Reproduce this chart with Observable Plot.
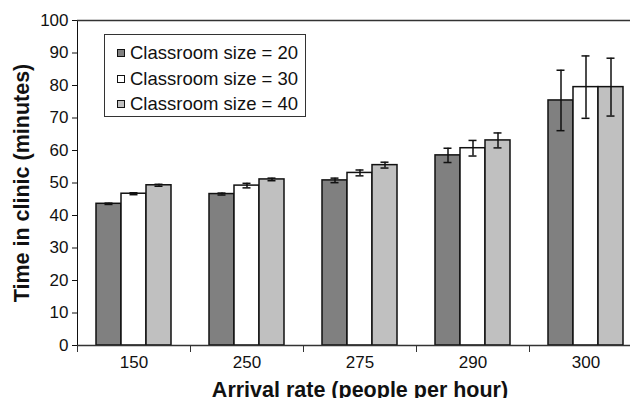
<!DOCTYPE html>
<html>
<head>
<meta charset="utf-8">
<script src="https://cdn.jsdelivr.net/npm/d3@7"></script>
<script src="https://cdn.jsdelivr.net/npm/@observablehq/plot@0.6"></script>
<style>
  html, body { margin: 0; padding: 0; background: white; overflow: hidden; }
  #wrap { position: relative; width: 630px; height: 398px; overflow: hidden; font-family: "Liberation Sans", Arial, sans-serif; }
  #wrap svg { max-width: none !important; }
  #legend { position: absolute; left: 104px; top: 34px; width: 200px; height: 81px; border: 1.5px solid #333; background: white; box-sizing: content-box; }
  .item { position: absolute; left: 12px; height: 22px; display: flex; align-items: center; font-size: 18.5px; color: #111; white-space: nowrap; }
  .sw { width: 6px; height: 6px; border: 1px solid #111; margin-right: 5px; }
</style>
</head>
<body>
<div id="wrap"><div id="legend"></div></div>
<script>
const rates = ["150", "250", "275", "290", "300"];
const sizes = [20, 30, 40];
const seriesNames = ["Classroom size = 20", "Classroom size = 30", "Classroom size = 40"];
const size20 = [43.6, 46.6, 50.8, 58.5, 75.4];
const size30 = [46.7, 49.2, 53.1, 60.7, 79.5];
const size40 = [49.3, 51.1, 55.5, 63.1, 79.5];
const err20 = [0.2, 0.3, 0.7, 2.2, 9.3];
const err30 = [0.3, 0.7, 0.9, 2.4, 9.6];
const err40 = [0.3, 0.4, 0.9, 2.3, 8.9];
const yTicks = [0, 10, 20, 30, 40, 50, 60, 70, 80, 90, 100];
const colors = ["#808080", "#ffffff", "#c0c0c0"];

const means = [size20, size30, size40];
const errs = [err20, err30, err40];
const rows = [];
rates.forEach((r, i) => sizes.forEach((s, j) => rows.push({rate: r, size: s, mean: means[j][i], err: errs[j][i]})));

const font = "'Liberation Sans', Arial, sans-serif";
const chart = Plot.plot({
  width: 642, height: 398,
  marginLeft: 77, marginRight: 0, marginTop: 20, marginBottom: 53,
  style: {fontFamily: font, fontSize: "17px", color: "#111", background: "white", overflow: "visible", maxWidth: "none"},
  fx: {domain: rates, padding: 0, label: "Arrival rate (people per hour)", labelAnchor: "center", labelOffset: 51, tickSize: 0, tickPadding: 10},
  x: {domain: sizes, paddingInner: 0, paddingOuter: 0.73, axis: null},
  y: {domain: [0, 100], ticks: yTicks, tickSize: 5, tickPadding: 4, line: true, label: "Time in clinic (minutes)", labelAnchor: "center", labelArrow: false, labelOffset: 64},
  color: {domain: sizes, range: colors},
  marks: [
    Plot.barY(rows, {fx: "rate", x: "size", y: "mean", fill: "size", stroke: "#111", strokeWidth: 1.5}),
    Plot.ruleY([0], {stroke: "#333", strokeWidth: 1.5}),
    Plot.ruleY([100], {stroke: "#333", strokeWidth: 1.5}),
    Plot.ruleX(rows, {fx: "rate", x: "size", y1: d => d.mean - d.err, y2: d => d.mean + d.err, stroke: "#111", strokeWidth: 1.5}),
    Plot.tickY(rows, {fx: "rate", x: "size", y: d => d.mean - d.err, inset: 8.5, stroke: "#111", strokeWidth: 1.5}),
    Plot.tickY(rows, {fx: "rate", x: "size", y: d => d.mean + d.err, inset: 8.5, stroke: "#111", strokeWidth: 1.5}),
    Plot.frame({anchor: "left", insetTop: 325.3, insetBottom: -6, stroke: "#333"})
  ]
});
d3.select(chart).selectAll('[aria-label="y-axis label"], [aria-label="fx-axis label"]')
  .attr("font-size", "21.5px").attr("font-weight", "bold");
d3.select(chart).selectAll('[aria-label="y-axis label"] text, [aria-label="fx-axis label"] text')
  .attr("font-size", "21.5px").attr("font-weight", "bold");
document.getElementById("wrap").prepend(chart);

const legend = document.getElementById("legend");
seriesNames.forEach((name, i) => {
  const it = document.createElement("div");
  it.className = "item";
  it.style.top = (7 + i * 25.7) + "px";
  const sw = document.createElement("span");
  sw.className = "sw";
  sw.style.background = colors[i];
  it.appendChild(sw);
  it.appendChild(document.createTextNode(name));
  legend.appendChild(it);
});
</script>
</body>
</html>
